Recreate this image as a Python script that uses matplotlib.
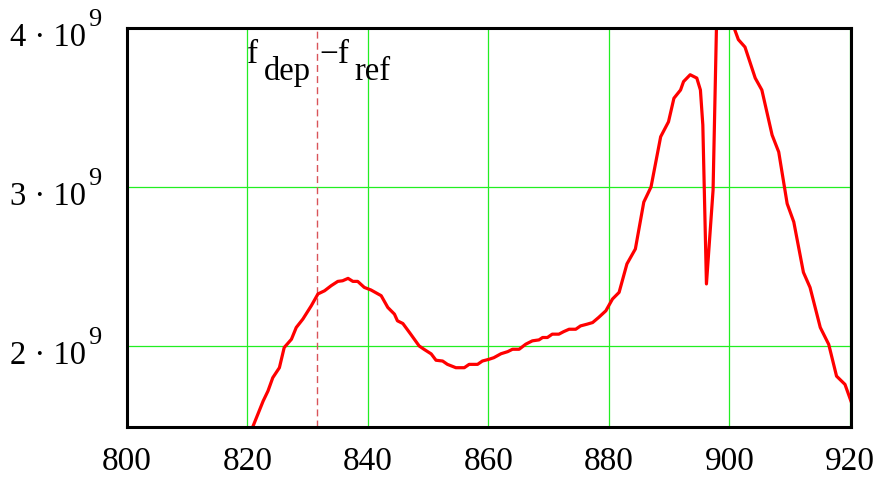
import matplotlib
matplotlib.use("Agg")
import matplotlib.pyplot as plt
import numpy as np

plt.rcParams['font.family'] = ['Liberation Serif', 'DejaVu Serif']

# frequency (MHz)
freq = [820.7, 821.7, 822.6, 823.4, 824.2, 825.3, 826.1, 827.3, 828.1, 829.2,
        830.6, 831.7, 832.8, 833.9, 835.0, 835.8, 836.7, 837.5, 838.3, 839.4,
        840.5, 842.2, 843.3, 844.4, 844.9, 845.8, 847.1, 848.5, 849.3, 850.5,
        851.3, 852.4, 853.2, 854.6, 856.0, 856.8, 858.2, 859.0, 860.1, 860.9,
        862.1, 863.2, 864.0, 865.1, 866.2, 867.3, 868.4, 869.0, 869.8, 870.6,
        871.7, 872.5, 873.4, 874.5, 875.3, 876.4, 877.3, 878.3, 879.5, 880.6,
        881.7, 883.0, 884.4, 885.8, 887.0, 888.6, 889.9, 890.8, 891.9, 892.4,
        893.5, 894.6, 895.2, 895.6, 896.2, 897.3, 898.3, 899.5, 900.7, 901.5,
        902.6, 904.3, 905.4, 907.1, 908.2, 909.6, 910.7, 912.3, 913.4, 915.1,
        916.5, 917.8, 919.2, 920.6]
# value (units of 1e9)
value = [1.474, 1.568, 1.653, 1.716, 1.800, 1.863, 1.990, 2.042, 2.116, 2.169,
         2.253, 2.327, 2.347, 2.379, 2.406, 2.410, 2.425, 2.406, 2.406, 2.368,
         2.352, 2.316, 2.242, 2.200, 2.158, 2.141, 2.074, 2.000, 1.979, 1.950,
         1.910, 1.905, 1.884, 1.863, 1.863, 1.884, 1.884, 1.905, 1.916, 1.926,
         1.951, 1.964, 1.979, 1.979, 2.011, 2.032, 2.038, 2.053, 2.053, 2.074,
         2.074, 2.090, 2.105, 2.105, 2.126, 2.137, 2.147, 2.179, 2.221, 2.295,
         2.337, 2.516, 2.610, 2.905, 3.000, 3.316, 3.410, 3.558, 3.610, 3.663,
         3.706, 3.685, 3.610, 3.390, 2.390, 2.980, 4.800, 4.500, 4.010, 3.927,
         3.880, 3.685, 3.610, 3.327, 3.220, 2.895, 2.780, 2.463, 2.368, 2.116,
         2.010, 1.810, 1.758, 1.610]

marker_freq = 831.5
xticks = [800, 820, 840, 860, 880, 900, 920]
yticks = [2, 3, 4]
ytick_mantissa = ['2 \u00b7 10', '3 \u00b7 10', '4 \u00b7 10']
ytick_exponent = ['9', '9', '9']

W, H = 880, 482
fig = plt.figure(figsize=(W / 100, H / 100), dpi=100)
ax = fig.add_axes([127 / W, 1 - 427 / H, (851 - 127) / W, (427 - 28) / H])

ax.plot(freq, np.array(value) * 1e9, color='#ff0000', lw=2.3, zorder=3, clip_on=True)
ax.axvline(marker_freq, color='#d9545a', lw=1.0, ls=(0, (5, 3)), zorder=2)

ax.set_xlim(800, 920.2)
ax.set_ylim(1.49e9, 4e9)
ax.set_xticks(xticks)
ax.set_xticklabels([str(t) for t in xticks])
ax.set_yticks([v * 1e9 for v in yticks])
ax.set_yticklabels([])
ax.grid(True, color='#22ee22', lw=0.9)
ax.set_axisbelow(True)
ax.tick_params(length=0, labelsize=24)
ax.tick_params(axis='x', pad=14)
for s in ax.spines.values():
    s.set_linewidth(2.2)
    s.set_color('black')
    s.set_zorder(4)

px = 0.72  # points per pixel at 100 dpi
for v, m, e in zip(yticks, ytick_mantissa, ytick_exponent):
    ax.annotate(m, xy=(0, v * 1e9), xycoords=('axes fraction', 'data'),
                xytext=(-41 * px, -18.5 * px), textcoords='offset points',
                ha='right', va='baseline', fontsize=23.5, annotation_clip=False)
    ax.annotate(e, xy=(0, v * 1e9), xycoords=('axes fraction', 'data'),
                xytext=(-39 * px, 2 * px), textcoords='offset points',
                ha='left', va='baseline', fontsize=19, annotation_clip=False)

def ptext(x, y, s, size):
    fig.text(x / W, 1 - y / H, s, fontsize=size, ha='left', va='baseline')

ptext(247, 63, 'f', 24)
ptext(264, 80, 'dep', 23.5)
ptext(319, 63, '\u2212f', 24)
ptext(354, 80, 'ref', 23.5)

fig.savefig('out.png', dpi=100)
